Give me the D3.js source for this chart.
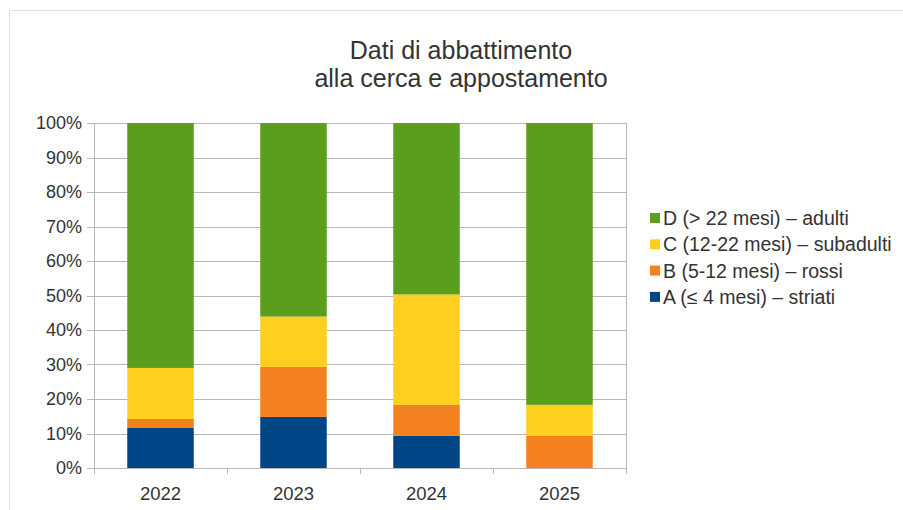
<!DOCTYPE html>
<html><head><meta charset="utf-8">
<script src="https://cdn.jsdelivr.net/npm/d3@7"></script>
<style>
html,body{margin:0;padding:0;background:#fff;}
svg{display:block;font-family:"Liberation Sans",Arial,sans-serif;}
</style></head>
<body><svg id="c" width="903" height="510"></svg>
<script>
const titleLines = ["Dati di abbattimento", "alla cerca e appostamento"];
const years = ["2022", "2023", "2024", "2025"];
const seriesNames = ["A (≤ 4 mesi) – striati", "B (5-12 mesi) – rossi", "C (12-22 mesi) – subadulti", "D (> 22 mesi) –  adulti"];
const seriesA = [11.6, 14.8, 9.4, 0];
const seriesB = [2.6, 14.5, 8.9, 9.4];
const seriesC = [14.8, 14.6, 32.0, 8.9];
const seriesD = [71.0, 56.1, 49.7, 81.7];
const yTicks = [0, 10, 20, 30, 40, 50, 60, 70, 80, 90, 100];
const colors = ["#004586", "#f4811f", "#ffcf1f", "#5a9e1e"];

const svg = d3.select("#c");
const W = 903, H = 510;
const m = {left: 94, right: 626, top: 123, bottom: 468};

// outer frame
svg.append("path").attr("d", `M9.5,${H} V10.5 H${W}`).attr("fill","none").attr("stroke","#e2e2e2");

const keys = ["A","B","C","D"];
const rows = years.map((y,i)=>({year:y, A:seriesA[i], B:seriesB[i], C:seriesC[i], D:seriesD[i]}));
const stack = d3.stack().keys(keys)(rows);

const x = d3.scaleBand().domain(years).range([m.left, m.right]).paddingInner(0.5).paddingOuter(0.25);
const xb = d3.scaleBand().domain(years).range([m.left, m.right]);
const y = d3.scaleLinear().domain([0,100]).range([m.bottom, m.top]);

const grid = "#b8b8b8";
svg.append("g").selectAll("line").data(yTicks).join("line")
  .attr("x1", m.left-7).attr("x2", m.right)
  .attr("y1", d=>Math.round(y(d))+0.5).attr("y2", d=>Math.round(y(d))+0.5)
  .attr("stroke", grid).attr("stroke-width",1);
svg.append("line").attr("x1",m.left+0.5).attr("x2",m.left+0.5).attr("y1",m.top).attr("y2",m.bottom+6).attr("stroke",grid);
svg.append("line").attr("x1",m.right+0.5).attr("x2",m.right+0.5).attr("y1",m.top).attr("y2",m.bottom+6).attr("stroke",grid);
svg.append("g").selectAll("line").data(years.slice(1)).join("line")
  .attr("x1", d=>Math.round(xb(d))+0.5).attr("x2", d=>Math.round(xb(d))+0.5)
  .attr("y1", m.bottom).attr("y2", m.bottom+6).attr("stroke", grid);

svg.append("g").selectAll("g").data(stack).join("g")
  .attr("fill", (d,i)=>colors[i])
  .selectAll("rect").data(d=>d).join("rect")
  .attr("x", d=>x(d.data.year)).attr("width", x.bandwidth())
  .attr("y", d=>y(d[1])).attr("height", d=>y(d[0])-y(d[1]));

svg.append("g").selectAll("text").data(yTicks).join("text")
  .attr("x", 82).attr("y", d=>y(d)).attr("dy","0.36em")
  .attr("text-anchor","end").attr("font-size",18).attr("fill","#333")
  .text(d=>d+"%");
svg.append("g").selectAll("text").data(years).join("text")
  .attr("x", d=>xb(d)+xb.bandwidth()/2).attr("y", 493).attr("dy","0.36em")
  .attr("text-anchor","middle").attr("font-size",18.5).attr("fill","#333")
  .text(d=>d);

svg.append("g").selectAll("text").data(titleLines).join("text")
  .attr("x", 461).attr("y",(d,i)=>50+i*28).attr("dy","0.36em")
  .attr("text-anchor","middle").attr("font-size",25).attr("fill","#333")
  .text(d=>d);

const legOrder = [3,2,1,0];
const lg = svg.append("g").selectAll("g").data(legOrder).join("g")
  .attr("transform",(d,i)=>`translate(650,${218+i*26.3})`);
lg.append("rect").attr("x",0).attr("y",-5).attr("width",10).attr("height",10).attr("fill",d=>colors[d]);
lg.append("text").attr("x",13).attr("y",0).attr("dy","0.36em").attr("font-size",19.5).attr("fill","#333")
  .text(d=>seriesNames[d]);
</script></body></html>
